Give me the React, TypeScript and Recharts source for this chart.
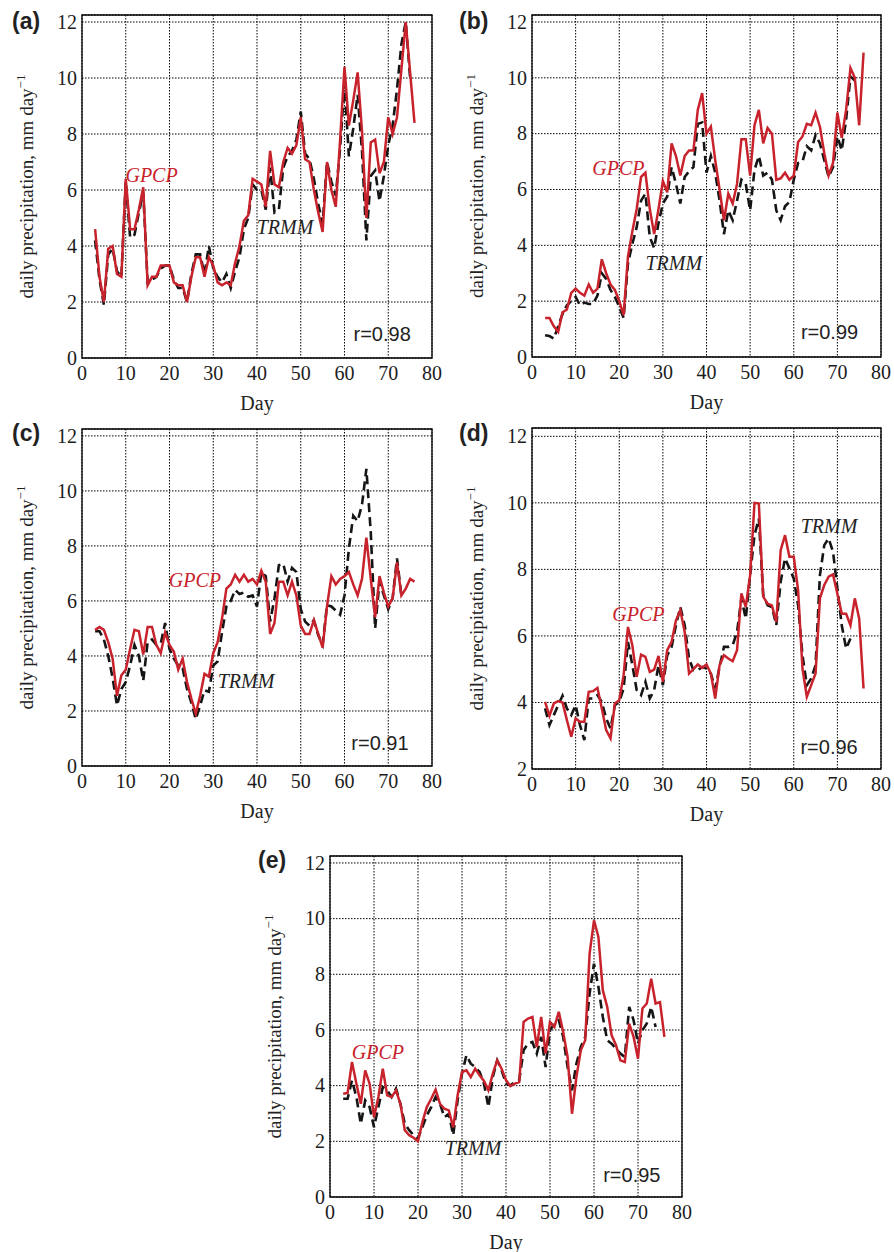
import { LineChart, Line, XAxis, YAxis, CartesianGrid, ReferenceArea, ReferenceDot } from "recharts";

// first day of every series, one value per day after that
const FIRST_DAY = 3;
const xTicks = [0, 10, 20, 30, 40, 50, 60, 70, 80];
const yTicksFull = [0, 2, 4, 6, 8, 10, 12];
const yTicksD = [2, 4, 6, 8, 10, 12];

const gpcpA = [
  4.6, 2.9, 2.0, 3.9, 4.0, 3.0, 2.9, 6.4, 4.6, 4.6,
  5.3, 6.1, 2.6, 2.9, 2.9, 3.3, 3.3, 3.3, 2.7, 2.6,
  2.6, 2.0, 2.9, 3.6, 3.6, 2.9, 3.6, 3.3, 2.7, 2.6,
  2.7, 2.6, 3.4, 4.0, 4.9, 5.1, 6.4, 6.3, 6.2, 5.4,
  7.4, 6.2, 6.1, 7.0, 7.5, 7.3, 7.6, 8.6, 7.1, 7.0,
  6.0, 5.2, 4.5, 7.0, 6.0, 5.4, 7.8, 10.4, 8.3, 9.2,
  10.2, 8.1, 5.0, 7.7, 7.8, 6.6, 7.0, 8.6, 8.0, 8.6,
  10.3, 12.0, 10.2, 8.4,
];
const trmmA = [
  4.2, 2.8, 1.9, 3.7, 3.9, 3.1, 2.9, 6.3, 4.3, 4.4,
  5.2, 5.9, 2.7, 2.8, 2.9, 3.2, 3.3, 3.3, 2.8, 2.5,
  2.5, 2.0, 3.0, 3.7, 3.7, 3.0, 4.0, 3.2, 2.9, 2.7,
  3.0, 2.5, 3.1, 3.6, 4.6, 5.0, 6.2, 6.0, 6.0, 5.3,
  6.8, 5.2, 5.3, 6.8, 7.2, 7.4, 7.8, 8.8, 7.3, 7.1,
  6.4, 5.5, 4.8, 7.0, 6.3, 5.8, 7.5, 9.8, 7.2, 8.2,
  9.4, 7.4, 4.2, 6.5, 6.7, 5.6, 6.5, 7.6, 8.3, 9.6,
  11.2, 12.0, 10.0,
];

const gpcpB = [
  1.4, 1.4, 1.1, 0.9, 1.6, 1.7, 2.3, 2.45, 2.3, 2.2,
  2.6, 2.3, 2.45, 3.5, 3.0, 2.6, 2.4, 2.0, 1.5, 3.6,
  4.5, 5.3, 6.45, 6.6, 5.3, 4.4, 5.3, 6.3, 5.9, 7.65,
  7.2, 6.5, 7.2, 7.4, 7.4, 8.85, 9.45, 8.0, 8.25, 7.05,
  6.0, 4.9, 5.85, 5.5, 6.2, 7.8, 7.8, 6.5, 8.3, 8.85,
  7.65, 8.2, 8.0, 6.35, 6.4, 6.6, 6.35, 6.5, 7.7, 7.9,
  8.35, 8.3, 8.75, 8.25, 7.3, 6.5, 6.95, 8.75, 7.85, 8.85,
  10.35, 10.0, 8.3, 10.9,
];
const trmmB = [
  0.78, 0.75, 0.66, 1.1, 1.55, 1.85, 2.0, 2.15, 1.85, 1.95,
  1.9, 1.9, 2.2, 3.0, 2.8, 2.4, 2.15, 1.8, 1.4, 3.35,
  4.05, 4.65, 5.6, 5.85, 4.3, 3.9, 4.8, 5.5, 5.75, 6.8,
  6.2, 5.5, 6.45, 6.65, 6.8, 8.35, 8.4, 6.6, 7.2, 6.6,
  5.6, 4.4, 5.25, 4.9, 5.6, 6.35, 6.2, 5.25, 6.7, 7.2,
  6.5, 6.6, 6.35, 5.25, 4.9, 5.4, 5.55, 6.35, 6.95, 7.0,
  7.55, 7.4, 7.95, 7.65, 7.05, 6.45, 6.8, 7.9, 7.4, 8.5,
  10.05, 9.9,
];

const gpcpC = [
  4.95, 5.05, 4.95, 4.5, 3.9, 2.55, 3.3, 3.5, 4.25, 4.95,
  4.9, 4.05, 5.05, 5.05, 4.4, 4.1, 4.85, 4.4, 4.15, 3.5,
  3.9, 3.05, 2.45, 1.9, 2.55, 3.35, 3.25, 4.1, 4.5, 5.35,
  6.45, 6.6, 6.95, 6.7, 6.95, 6.7, 6.8, 6.6, 7.1, 6.7,
  4.8, 5.2, 6.7, 6.7, 6.2, 6.7, 6.2, 5.1, 4.8, 4.8,
  5.3, 4.8, 4.3, 5.8, 6.9, 6.6, 6.8, 6.9, 7.05, 6.6,
  6.2, 6.8, 8.3, 6.8, 5.4, 6.9, 6.3, 5.8, 6.1, 7.4,
  6.2, 6.45, 6.8, 6.7,
];
const trmmC = [
  4.9, 4.9, 4.6, 4.0, 3.2, 2.2, 2.8, 3.05, 3.65, 4.4,
  4.0, 3.1, 4.5, 4.6, 4.4, 4.45, 5.2, 4.25, 3.9, 3.65,
  3.55, 2.8, 2.3, 1.7, 2.2, 2.75, 2.7, 3.65, 3.8, 4.85,
  5.8, 6.0, 6.4, 6.25, 6.3, 6.15, 6.2, 5.8, 7.05, 6.9,
  5.25, 6.1, 7.3, 7.35, 6.7, 7.2, 7.05, 5.7, 5.25, 5.1,
  5.3, 4.75, 4.4, 5.85, 5.8, 5.65, 5.5, 6.2, 7.9, 9.1,
  8.9, 9.5, 10.8, 8.5, 5.0, 6.7, 6.2, 5.7, 6.1, 7.55,
  6.2,
];

const gpcpD = [
  4.02, 3.6, 3.97, 4.04, 4.0, 3.47, 2.97, 3.52, 3.42, 3.42,
  4.32, 4.34, 4.44, 3.82, 3.17, 2.92, 3.97, 4.07, 4.82, 6.27,
  5.72, 4.77, 5.44, 5.37, 4.92, 4.99, 5.4, 4.62, 5.57, 5.82,
  6.47, 6.77, 6.12, 4.87, 5.0, 5.14, 5.04, 5.14, 4.87, 4.12,
  5.12, 5.42, 5.32, 5.24, 5.57, 7.28, 6.87, 7.83, 10.0, 9.98,
  7.18, 6.97, 6.92, 6.42, 8.58, 9.03, 8.38, 8.38, 7.37, 5.02,
  4.17, 4.52, 4.87, 7.13, 7.53, 7.78, 7.85, 7.27, 6.67, 6.67,
  6.32, 7.13, 6.52, 4.42,
];
const trmmD = [
  3.82, 3.32, 3.62, 3.92, 4.2, 3.82, 3.62, 3.92, 3.32, 2.87,
  4.12, 4.12, 4.22, 4.02, 3.52, 3.22, 3.92, 4.02, 4.42, 5.82,
  5.12, 4.37, 4.22, 4.62, 4.12, 4.37, 5.12, 4.52, 5.42, 5.67,
  6.32, 6.87, 6.32, 5.32, 4.97, 4.97, 5.07, 5.02, 4.87, 4.42,
  5.07, 5.67, 5.67, 5.72, 6.12, 7.13, 6.52, 7.83, 9.03, 9.53,
  7.23, 6.92, 6.87, 6.32, 7.63, 8.33, 8.03, 7.73, 6.92, 5.42,
  4.52, 4.72, 5.12, 7.83, 8.73, 8.93, 8.53, 7.43, 6.32, 5.62,
  5.92,
];

const gpcpE = [
  3.71, 3.74, 4.85, 4.07, 3.35, 4.55, 4.07, 2.87, 3.59, 4.61,
  3.65, 3.59, 3.83, 3.35, 2.4, 2.22, 2.13, 2.0, 2.69, 3.23,
  3.53, 3.86, 3.35, 3.17, 3.11, 2.5, 3.65, 4.49, 4.55, 4.31,
  4.61, 4.37, 4.17, 3.83, 4.43, 4.91, 4.61, 4.2, 3.98, 4.07,
  4.13, 6.29, 6.41, 6.47, 5.39, 6.47, 5.15, 6.29, 6.11, 6.65,
  5.93, 5.03, 2.99, 4.31, 5.27, 5.63, 8.74, 9.94, 9.34, 7.43,
  6.83, 5.81, 5.45, 4.91, 4.85, 6.23, 5.75, 4.97, 6.77, 6.95,
  7.84, 6.95, 7.0, 5.75,
];
const trmmE = [
  3.53, 3.53, 4.19, 3.59, 2.63, 3.47, 3.23, 2.51, 3.23, 3.95,
  3.83, 3.59, 3.89, 3.35, 2.63, 2.4, 2.22, 2.1, 2.51, 2.93,
  3.23, 3.59, 3.35, 2.87, 2.99, 2.22, 3.47, 4.43, 5.09, 4.79,
  4.67, 4.49, 4.07, 3.23, 4.31, 4.91, 4.55, 4.07, 4.01, 4.13,
  4.19, 5.27, 5.51, 5.57, 5.15, 5.75, 4.67, 5.99, 6.23, 6.35,
  5.75, 4.67, 3.83, 4.79, 5.39, 5.75, 7.31, 8.38, 7.55, 6.47,
  5.63, 5.51, 5.33, 5.15, 5.03, 6.83, 6.35, 5.51, 5.99, 6.23,
  6.83, 6.11,
];

const SERIF = "'Liberation Serif', 'Times New Roman', serif";
const SANS = "'Liberation Sans', Arial, sans-serif";
const RED = "#c8232c";
const INK = "#1c1c1c";
const AXIS_W = 60;
const M_TOP = 5;
const M_RIGHT = 14;
const X_H = 40;
const Y_TOP = 12.25;

const panels = [
  {
    tag: "(a)", gpcp: gpcpA, trmm: trmmA, yMin: 0, yTicks: yTicksFull,
    left: 82, top: 15, w: 350, h: 343, tagX: 12, tagY: 29,
    notes: [
      { text: "GPCP", x: 15.9, y: 6.54, kind: "g" },
      { text: "TRMM", x: 46.4, y: 4.68, kind: "t" },
      { text: "r=0.98", x: 68.6, y: 0.86, kind: "r" },
    ],
  },
  {
    tag: "(b)", gpcp: gpcpB, trmm: trmmB, yMin: 0, yTicks: yTicksFull,
    left: 532, top: 15, w: 349, h: 342, tagX: 459, tagY: 29,
    notes: [
      { text: "GPCP", x: 19.8, y: 6.77, kind: "g" },
      { text: "TRMM", x: 32.5, y: 3.36, kind: "t" },
      { text: "r=0.99", x: 68.2, y: 0.88, kind: "r" },
    ],
  },
  {
    tag: "(c)", gpcp: gpcpC, trmm: trmmC, yMin: 0, yTicks: yTicksFull,
    left: 82, top: 429, w: 350, h: 337, tagX: 12, tagY: 441,
    notes: [
      { text: "GPCP", x: 25.8, y: 6.75, kind: "g" },
      { text: "TRMM", x: 37.5, y: 3.08, kind: "t" },
      { text: "r=0.91", x: 68.1, y: 0.83, kind: "r" },
    ],
  },
  {
    tag: "(d)", gpcp: gpcpD, trmm: trmmD, yMin: 2, yTicks: yTicksD,
    left: 532, top: 428, w: 349, h: 341, tagX: 459, tagY: 441,
    notes: [
      { text: "GPCP", x: 24.4, y: 6.65, kind: "g" },
      { text: "TRMM", x: 68.1, y: 9.3, kind: "t" },
      { text: "r=0.96", x: 68.1, y: 2.66, kind: "r" },
    ],
  },
  {
    tag: "(e)", gpcp: gpcpE, trmm: trmmE, yMin: 0, yTicks: yTicksFull,
    left: 330, top: 856, w: 352, h: 341, tagX: 258, tagY: 868,
    notes: [
      { text: "GPCP", x: 10.9, y: 5.2, kind: "g" },
      { text: "TRMM", x: 32.5, y: 1.75, kind: "t" },
      { text: "r=0.95", x: 68.6, y: 0.78, kind: "r" },
    ],
  },
];

// small text placed at a reference dot (r = 0, so viewBox x/y is the point)
function noteLabel(text: string, kind: string) {
  return (props: any) => {
    const vb = props.viewBox || {};
    const x = (vb.x ?? 0) + (vb.width ?? 0) / 2;
    const y = (vb.y ?? 0) + (vb.height ?? 0) / 2;
    const isR = kind === "r";
    return (
      <text
        x={x}
        y={y}
        dy="0.35em"
        textAnchor="middle"
        fontFamily={isR ? SANS : SERIF}
        fontStyle={isR ? "normal" : "italic"}
        fontSize={20}
        fill={kind === "g" ? RED : "#222"}
      >
        {text}
      </text>
    );
  };
}

function XTick(props: any) {
  const { x, y, payload } = props;
  return (
    <text x={x} y={y} dy="0.72em" textAnchor="middle" fontFamily={SERIF} fontSize={20} fill={INK}>
      {payload.value}
    </text>
  );
}

function YTick(props: any) {
  const { x, y, payload } = props;
  return (
    <text x={x} y={y} dy="0.34em" textAnchor="end" fontFamily={SERIF} fontSize={20} fill={INK}>
      {payload.value}
    </text>
  );
}

function Panel({ p }: { p: (typeof panels)[number] }) {
  const rows = p.gpcp.map((g, i) => ({ day: FIRST_DAY + i, gpcp: g, trmm: p.trmm[i] }));
  return (
    <div style={{ position: "absolute", left: p.left - AXIS_W, top: p.top - M_TOP }}>
      <LineChart
        width={AXIS_W + p.w + M_RIGHT}
        height={M_TOP + p.h + X_H}
        data={rows}
        margin={{ top: M_TOP, right: M_RIGHT, bottom: 0, left: 0 }}
      >
        <CartesianGrid stroke="#000" strokeDasharray="1.5 1.5" strokeWidth={1} />
        <XAxis
          dataKey="day"
          type="number"
          domain={[0, 80]}
          ticks={xTicks}
          interval={0}
          tickSize={0}
          tickMargin={8}
          axisLine={false}
          height={X_H}
          tick={<XTick />}
        />
        <YAxis
          type="number"
          domain={[p.yMin, Y_TOP]}
          ticks={p.yTicks}
          interval={0}
          tickSize={0}
          tickMargin={5}
          axisLine={false}
          width={AXIS_W}
          tick={<YTick />}
          allowDataOverflow
        />
        <ReferenceArea x1={0} x2={80} y1={p.yMin} y2={Y_TOP} fill="none" stroke="#000" strokeWidth={1.3} />
        <Line
          dataKey="trmm"
          stroke="#151515"
          strokeWidth={2.6}
          strokeDasharray="9 5"
          dot={false}
          isAnimationActive={false}
        />
        <Line dataKey="gpcp" stroke={RED} strokeWidth={2.5} dot={false} isAnimationActive={false} />
        {p.notes.map((n) => (
          <ReferenceDot
            key={n.text}
            x={n.x}
            y={n.y}
            r={0}
            fill="none"
            stroke="none"
            label={noteLabel(n.text, n.kind)}
          />
        ))}
      </LineChart>
    </div>
  );
}

export default function App() {
  return (
    <div
      style={{
        position: "absolute",
        left: 0,
        top: 0,
        width: 894,
        height: 1252,
        overflow: "hidden",
        background: "#fff",
      }}
    >
      {panels.map((p) => (
        <Panel key={p.tag} p={p} />
      ))}
      <svg width={894} height={1252} style={{ position: "absolute", left: 0, top: 0, pointerEvents: "none" }}>
        {panels.map((p) => {
          const cx = p.left - 49;
          const cy = p.top + p.h / 2;
          return (
            <g key={p.tag}>
              <text x={p.tagX} y={p.tagY} fontFamily={SANS} fontWeight="bold" fontSize={23} fill="#222">
                {p.tag}
              </text>
              <text
                x={p.left + p.w / 2}
                y={p.top + p.h + 52}
                textAnchor="middle"
                fontFamily={SERIF}
                fontSize={20}
                fill="#222"
              >
                Day
              </text>
              <text
                x={cx}
                y={cy}
                transform={`rotate(-90 ${cx} ${cy})`}
                textAnchor="middle"
                fontFamily={SERIF}
                fontSize={19}
                fill="#222"
              >
                daily precipitation, mm day
                <tspan fontSize={13} dy={-8}>−1</tspan>
              </text>
            </g>
          );
        })}
      </svg>
    </div>
  );
}
